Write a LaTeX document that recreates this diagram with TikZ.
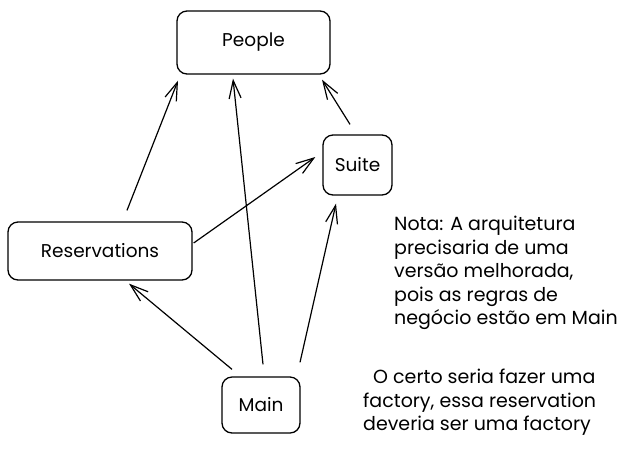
\documentclass[tikz,border=0pt]{standalone}
\usepackage{fontspec}
\setmainfont{Poppins}
\usetikzlibrary{arrows.meta}
\tikzset{
  box/.style={draw=black, line width=1.3pt, rounded corners=10pt, inner sep=0pt, font=\fontsize{18.5}{20}\selectfont},
  arr/.style={draw=black, line width=1.2pt, -{Straight Barb[length=18pt,width=12pt,line width=1.2pt]}},
  note/.style={align=left, anchor=north west, inner sep=0pt, font=\fontsize{19}{23.5}\selectfont}
}
\begin{document}
\begin{tikzpicture}[x=1pt,y=-1pt]
\useasboundingbox[fill=white] (0,0) rectangle (628,451);
\node[box, minimum width=153pt, minimum height=63pt] (ppl) at (253.5,42.5) {People};
\node[box, minimum width=69pt, minimum height=60pt] (suite) at (357.5,165) {Suite};
\node[box, minimum width=184pt, minimum height=58pt] (res) at (100,251) {Reservations};
\node[box, minimum width=78pt, minimum height=56pt] (main) at (261,405) {Main};
\draw[arr] ([xshift=27pt,yshift=11pt]res.north) -- ([xshift=-75.5pt,yshift=-6pt]ppl.south);
\draw[arr] ([xshift=2pt,yshift=12pt]main.north) -- ([xshift=-20.5pt,yshift=-4pt]ppl.south);
\draw[arr] ([xshift=39pt,yshift=14pt]main.north) -- ([xshift=-21.5pt,yshift=-8pt]suite.south);
\draw[arr] ([xshift=-29pt,yshift=7pt]main.north) -- ([xshift=29pt,yshift=-3pt]res.south);
\draw[arr] ([xshift=1pt,yshift=8pt]res.east) -- ([xshift=-7pt,yshift=8pt]suite.west);
\draw[arr] ([xshift=-7.5pt,yshift=10pt]suite.north) -- ([xshift=68.5pt,yshift=-5pt]ppl.south);
\node[note] (nota) at (394,216) {Nota: A arquitetura\\precisaria de uma\\versão melhorada,\\pois as regras de\\negócio estão em Main};
\node[note] (certo) at (363,369) {\hspace{10pt}O certo seria fazer uma\\factory, essa reservation\\deveria ser uma factory};
\end{tikzpicture}
\end{document}
